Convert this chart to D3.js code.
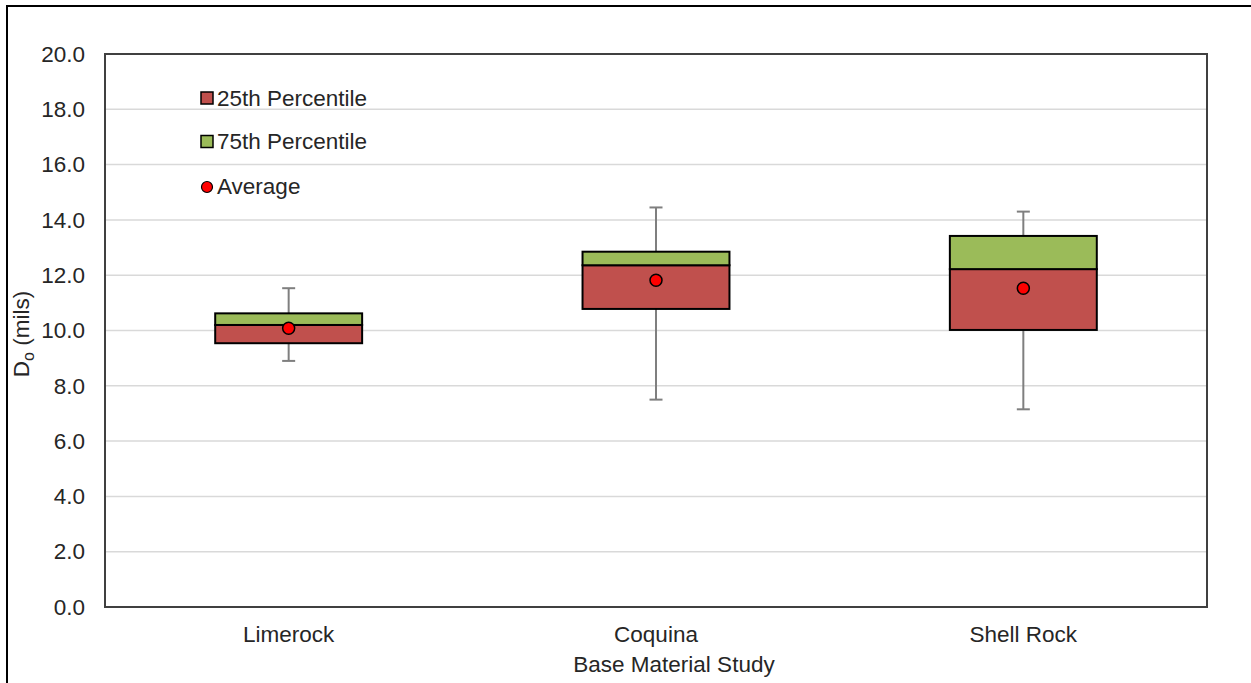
<!DOCTYPE html>
<html><head><meta charset="utf-8">
<script src="https://cdn.jsdelivr.net/npm/d3@7"></script>
<style>body{margin:0;background:#fff;} text{font-family:"Liberation Sans",Arial,sans-serif;fill:#262626;}</style>
</head><body><svg id="c" width="1251" height="683"></svg>
<script>
const categories = ["Limerock", "Coquina", "Shell Rock"];
const whiskerMin = [8.9, 7.5, 7.15];
const q1 = [9.54, 10.78, 10.02];
const median = [10.2, 12.36, 12.22];
const q3 = [10.62, 12.85, 13.42];
const whiskerMax = [11.53, 14.45, 14.3];
const average = [10.08, 11.82, 11.53];
const yTicks = [0, 2, 4, 6, 8, 10, 12, 14, 16, 18, 20];
const legendLabels = ["25th Percentile", "75th Percentile", "Average"];

const FS = "22.5px";
const svg = d3.select("#c");
const L = 105, R = 1207, T = 54, B = 607;
const x = d3.scaleBand().domain(categories).range([L, R]);
const y = d3.scaleLinear().domain([0, 20]).range([B, T]);

// outer frame (left and top)
svg.append("path").attr("d", "M7,683 V6 H1251").attr("fill", "none").attr("stroke", "#000").attr("stroke-width", 2);

// grid
svg.append("g").selectAll("line").data(yTicks).join("line")
  .attr("x1", L).attr("x2", R).attr("y1", d => y(d)).attr("y2", d => y(d))
  .attr("stroke", "#d9d9d9").attr("stroke-width", 1.5);

// y axis labels
const yAxis = d3.axisLeft(y).tickValues(yTicks).tickFormat(d3.format(".1f")).tickSize(0).tickPadding(20);
const ya = svg.append("g").attr("transform", `translate(${L},0)`).call(yAxis);
ya.select(".domain").remove();
ya.selectAll("text").style("font-size", FS).attr("fill", "#262626").style("font-family", "'Liberation Sans',Arial,sans-serif");

// x axis labels
const xAxis = d3.axisBottom(x).tickSize(0).tickPadding(19);
const xa = svg.append("g").attr("transform", `translate(0,${B})`).call(xAxis);
xa.select(".domain").remove();
xa.selectAll("text").style("font-size", FS).attr("fill", "#262626").style("font-family", "'Liberation Sans',Arial,sans-serif");

const bw = x.bandwidth() * 0.4;
const data = categories.map((c, i) => ({c, lo: whiskerMin[i], q1: q1[i], med: median[i], q3: q3[i], hi: whiskerMax[i], avg: average[i]}));
const g = svg.append("g");
data.forEach(d => {
  const cx = x(d.c) + x.bandwidth() / 2;
  g.append("line").attr("x1", cx).attr("x2", cx).attr("y1", y(d.hi)).attr("y2", y(d.q3)).attr("stroke", "#7f7f7f").attr("stroke-width", 2);
  g.append("line").attr("x1", cx).attr("x2", cx).attr("y1", y(d.q1)).attr("y2", y(d.lo)).attr("stroke", "#7f7f7f").attr("stroke-width", 2);
  [d.hi, d.lo].forEach(v => g.append("line").attr("x1", cx - 6.5).attr("x2", cx + 6.5).attr("y1", y(v)).attr("y2", y(v)).attr("stroke", "#7f7f7f").attr("stroke-width", 2));
  g.append("rect").attr("x", cx - bw / 2).attr("width", bw).attr("y", y(d.med)).attr("height", y(d.q1) - y(d.med))
    .attr("fill", "#c0504d").attr("stroke", "#000").attr("stroke-width", 2);
  g.append("rect").attr("x", cx - bw / 2).attr("width", bw).attr("y", y(d.q3)).attr("height", y(d.med) - y(d.q3))
    .attr("fill", "#9bbb59").attr("stroke", "#000").attr("stroke-width", 2);
  g.append("circle").attr("cx", cx).attr("cy", y(d.avg)).attr("r", 6).attr("fill", "#ff0000").attr("stroke", "#000").attr("stroke-width", 1.5);
});

// plot border
svg.append("rect").attr("x", L).attr("y", T).attr("width", R - L).attr("height", B - T)
  .attr("fill", "none").attr("stroke", "#404040").attr("stroke-width", 2);

// legend
const legendY = [98, 141.5, 186];
const leg = svg.append("g");
legendLabels.forEach((t, i) => {
  if (i < 2) {
    leg.append("rect").attr("x", 201).attr("y", legendY[i] - 6).attr("width", 12).attr("height", 12)
      .attr("fill", i === 0 ? "#c0504d" : "#9bbb59").attr("stroke", "#000").attr("stroke-width", 1.5);
  } else {
    leg.append("circle").attr("cx", 207).attr("cy", legendY[i] + 1).attr("r", 5.5).attr("fill", "#ff0000").attr("stroke", "#000").attr("stroke-width", 1.2);
  }
  leg.append("text").attr("x", 217).attr("y", legendY[i]).attr("dy", "0.35em").style("font-size", FS).text(t);
});

// axis titles
svg.append("text").attr("x", 674).attr("y", 664).attr("dy", "0.35em").attr("text-anchor", "middle").style("font-size", FS).text("Base Material Study");
const yt = svg.append("text").attr("transform", "translate(29,334) rotate(-90)").attr("text-anchor", "middle").style("font-size", FS);
yt.append("tspan").text("D");
yt.append("tspan").attr("dy", 5).style("font-size", "16px").text("o");
yt.append("tspan").attr("dy", -5).text(" (mils)");
</script></body></html>
